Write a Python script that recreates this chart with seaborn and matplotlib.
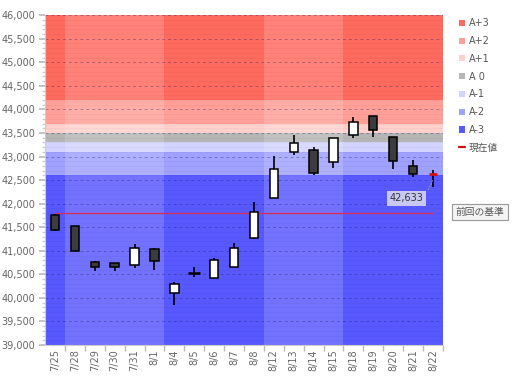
"""Candlestick chart with reference bands (A-3 .. A+3)."""

import matplotlib

matplotlib.use("Agg")
import matplotlib.pyplot as plt
from matplotlib.lines import Line2D
from matplotlib.patches import Patch
from matplotlib.ticker import FuncFormatter, MultipleLocator
import seaborn as sns

dates = ["7/25", "7/28", "7/29", "7/30", "7/31", "8/1", "8/4", "8/5", "8/6", "8/7",
         "8/8", "8/12", "8/13", "8/14", "8/15", "8/18", "8/19", "8/20", "8/21", "8/22"]
opens = [41765, 41520, 40762, 40748, 40706, 41033, 40108, 40535, 40428, 40663,
         41275, 42114, 43094, 43136, 42875, 43454, 43864, 43418, 42790, 42633]
closes = [41452, 41000, 40663, 40649, 41061, 40791, 40286, 40535, 40798, 41061,
          41815, 42726, 43291, 42648, 43397, 43737, 43554, 42896, 42620, 42633]
highs = [41780, 41530, 40784, 40748, 41154, 41054, 40343, 40650, 40848, 41161,
         42036, 43009, 43454, 43206, 43397, 43830, 43870, 43418, 42917, 42712]
lows = [41410, 40990, 40563, 40563, 40634, 40592, 39852, 40435, 40428, 40663,
        41253, 42114, 43024, 42612, 42748, 43403, 43418, 42741, 42570, 42358]

current_value = 42633
previous_base = 41800

band_names = ["A+3", "A+2", "A+1", "A 0", "A-1", "A-2", "A-3"]
band_edges = [46000, 44200, 43700, 43500, 43300, 43100, 42600, 39000]
band_colors = ["#ff6a5e", "#ff9f97", "#ffd0cc", "#b5b5b5", "#d3d3ff", "#a0a0ff", "#5858ff"]

# weeks drawn a bit lighter: (first index, last index)
light_weeks = [(1, 5), (11, 14)]

sns.set_theme(style="white")
plt.rcParams["font.family"] = ["DejaVu Sans", "Noto Sans CJK JP"]

fig = plt.figure(figsize=(5.12, 3.80), dpi=100)
ax = fig.add_axes([0.088, 0.092, 0.777, 0.868])

for name, top, bottom, color in zip(band_names, band_edges[:-1], band_edges[1:], band_colors):
    ax.axhspan(bottom, top, color=color, lw=0, zorder=0)
for start, end in light_weeks:
    ax.axvspan(start - 0.5, end + 0.5, color="white", alpha=0.16, lw=0, zorder=0.5)

ax.yaxis.set_major_locator(MultipleLocator(500))
ax.yaxis.set_minor_locator(MultipleLocator(100))
ax.grid(True, axis="y", which="major", color="#202060", alpha=0.35, linestyle=(0, (3, 3)), linewidth=0.7)
ax.grid(True, axis="y", which="minor", color="#000000", alpha=0.04, linewidth=0.6)
ax.set_axisbelow(True)

positions = list(range(len(dates)))
width = 0.42
for i, (o, c, h, l) in enumerate(zip(opens, closes, highs, lows)):
    last = i == len(dates) - 1
    ax.vlines(i, l, h, color="black", linewidth=1.2, zorder=3)
    if last:
        ax.hlines(current_value, i - 0.22, i + 0.22, color="#d01010", linewidth=2.0, zorder=4)
        continue
    if o == c:
        ax.hlines(o, i - 0.3, i + 0.3, color="black", linewidth=1.8, zorder=4)
        continue
    face = "white" if c > o else "#3c3c3c"
    ax.bar(i, abs(c - o), bottom=min(o, c), width=width, color=face,
           edgecolor="black", linewidth=1.1, zorder=4)

ax.hlines(previous_base, 0, len(dates) - 1, color="#d0305a", linewidth=1.0, zorder=2)

ax.annotate(
    f"{current_value:,}",
    xy=(len(dates) - 1, current_value - 80),
    xytext=(17.67, 42110),
    fontsize=7,
    color="#333333",
    ha="center",
    va="center",
    bbox=dict(boxstyle="square,pad=0.3", facecolor="#c8c8f2", edgecolor="none"),
    arrowprops=dict(arrowstyle="-", color="#9090b0", linestyle=":", linewidth=0.8,
                    connectionstyle="angle3,angleA=0,angleB=80"),
    zorder=5,
)
fig.text(0.937, 0.442, "前回の基準", fontsize=7, color="#555555", ha="center", va="center",
         family=["Noto Sans CJK JP", "DejaVu Sans"],
         bbox=dict(boxstyle="square,pad=0.35", facecolor="#f4f4f4", edgecolor="#999999", linewidth=0.8))

ax.set_xlim(-0.5, len(dates) - 0.5)
ax.set_ylim(39000, 46000)
ax.set_xticks(positions)
ax.set_xticklabels(dates, rotation=90)
ax.set_xticks([p + 0.5 for p in positions], minor=True)
ax.yaxis.set_major_formatter(FuncFormatter(lambda v, _p: f"{v:,.0f}"))
ax.tick_params(axis="both", which="major", labelsize=7, colors="#666666", length=0, pad=3)
ax.tick_params(axis="y", which="major", length=4, color="#bbbbbb", direction="out", left=True)
ax.tick_params(axis="y", which="minor", length=2, color="#cccccc", direction="out", left=True)
ax.tick_params(axis="x", which="minor", length=4, color="#bbbbbb", direction="out", bottom=True)
for side in ["top", "right"]:
    ax.spines[side].set_visible(False)
for side in ["left", "bottom"]:
    ax.spines[side].set_color("#cccccc")
    ax.spines[side].set_linewidth(0.8)

handles = [Patch(facecolor=c, edgecolor="none", label=n) for n, c in zip(band_names, band_colors)]
handles.append(Line2D([0], [0], color="#d01010", linewidth=1.6, label="現在値"))
leg = fig.legend(
    handles=handles,
    loc="upper left",
    bbox_to_anchor=(0.88, 0.975),
    frameon=False,
    handlelength=0.6,
    handleheight=0.6,
    handletextpad=0.4,
    labelspacing=0.8,
    prop={"family": ["DejaVu Sans", "Noto Sans CJK JP"], "size": 7},
)
for text in leg.get_texts():
    text.set_color("#555555")

fig.savefig("out.png", dpi=100)
plt.close(fig)
